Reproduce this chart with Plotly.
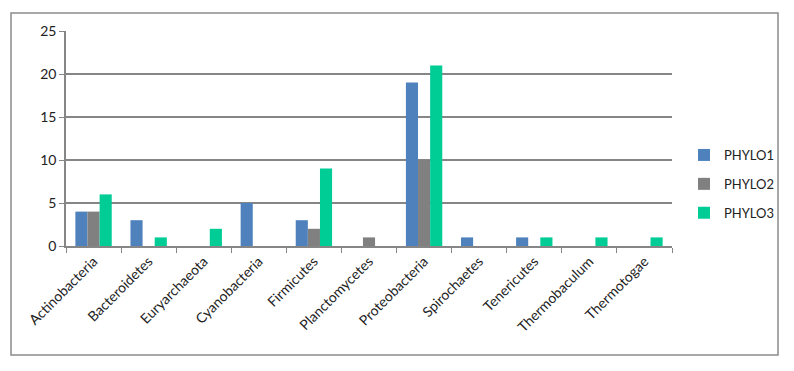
import plotly.graph_objects as go

categories = ["Actinobacteria", "Bacteroidetes", "Euryarchaeota", "Cyanobacteria", "Firmicutes",
              "Planctomycetes", "Proteobacteria", "Spirochaetes", "Tenericutes", "Thermobaculum", "Thermotogae"]
phylo1 = [4, 3, 0, 5, 3, 0, 19, 1, 1, 0, 0]
phylo2 = [4, 0, 0, 0, 2, 1, 10, 0, 0, 0, 0]
phylo3 = [6, 1, 2, 0, 9, 0, 21, 0, 1, 1, 1]
series_names = ["PHYLO1", "PHYLO2", "PHYLO3"]
colors = ["#4F81BD", "#808080", "#00CC96"]
y_ticks = [0, 5, 10, 15, 20, 25]

fig = go.Figure()
for i, (name, vals) in enumerate(zip(series_names, [phylo1, phylo2, phylo3])):
    fig.add_trace(go.Bar(x=categories, y=vals, name=name, marker_color=colors[i],
                         marker_line_width=0, legendgroup=name))

L, R, T, B = 66, 122, 31, 125
W, H = 794, 371
pw, ph = W - L - R, H - T - B

def px_to_paper_x(px):
    return (px - L) / pw

def px_to_paper_y(py):
    return (H - B - py) / ph

fig.add_shape(type="rect", xref="paper", yref="paper",
              x0=px_to_paper_x(11), x1=px_to_paper_x(778),
              y0=px_to_paper_y(355), y1=px_to_paper_y(13),
              line=dict(color="#8C8C8C", width=1.5), fillcolor="rgba(0,0,0,0)", layer="below")

fig.update_layout(
    width=W, height=H,
    margin=dict(l=L, r=R, t=T, b=B, autoexpand=False),
    paper_bgcolor="white", plot_bgcolor="white",
    barmode="group", bargap=0.34, bargroupgap=0,
    font=dict(family="Lato, Open Sans, sans-serif", size=13, color="#222"),
    showlegend=True,
    legend=dict(x=px_to_paper_x(684), y=px_to_paper_y(184), xanchor="left", yanchor="middle",
                font=dict(size=13, color="#222"), tracegroupgap=9,
                bgcolor="rgba(0,0,0,0)"),
    xaxis=dict(showline=True, linecolor="#868686", linewidth=1.5, automargin=False,
               ticks="outside", tickson="boundaries", ticklen=5, tickcolor="#868686",
               tickangle=-45, tickfont=dict(family="Lato, Open Sans, sans-serif", size=14),
               showgrid=False, fixedrange=True),
    yaxis=dict(range=[0, 25], tickvals=y_ticks, showline=True, linecolor="#868686", linewidth=1.5,
               ticks="outside", ticklen=5, tickcolor="#868686", automargin=False,
               showgrid=True, gridcolor="#868686", gridwidth=1.5, zeroline=False,
               tickfont=dict(size=14), fixedrange=True),
)

fig.write_html("out.html", post_script="document.body.style.margin='0';",
               config={"displayModeBar": False})
